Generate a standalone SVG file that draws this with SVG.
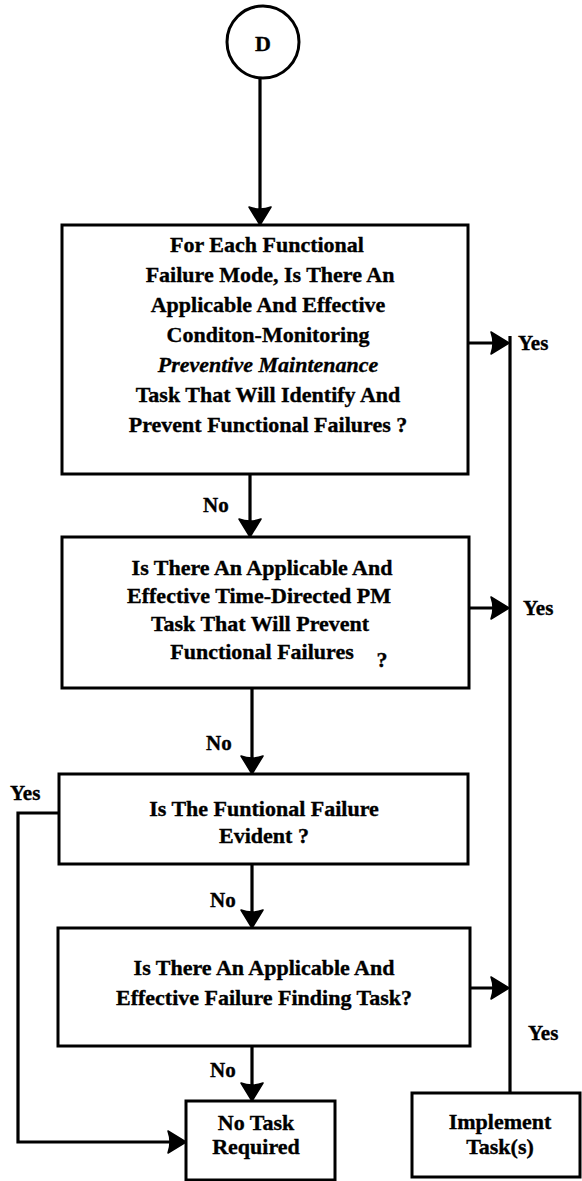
<svg xmlns="http://www.w3.org/2000/svg" width="582" height="1181" viewBox="0 0 582 1181">
  <style>
    .box { fill: #ffffff; stroke: #000000; stroke-width: 3; }
    .wire { fill: none; stroke: #000000; stroke-width: 3.2; }
    .label { font-family: "Liberation Serif", "Times New Roman", serif; font-weight: bold; font-size: 22px; fill: #000000; stroke: #000000; stroke-width: 0.35; text-anchor: middle; }
    .tag { font-family: "Liberation Serif", "Times New Roman", serif; font-weight: bold; font-size: 21px; fill: #000000; stroke: #000000; stroke-width: 0.35; }
  </style>
  <defs>
    <marker id="head" viewBox="0 0 20 24" refX="13" refY="12" markerWidth="20" markerHeight="24" markerUnits="userSpaceOnUse" orient="auto">
      <path d="M19,12 L1,1 Q5,12 1,23 Z" fill="#000000" stroke="#000000" stroke-width="1.5" stroke-linejoin="round"/>
    </marker>
  </defs>
  <rect width="582" height="1181" fill="#ffffff"/>

  <!-- off-page connector -->
  <g id="connector-d">
    <circle cx="263" cy="42" r="36" fill="#ffffff" stroke="#000000" stroke-width="3"/>
    <text class="label" x="263" y="51" font-size="25">D</text>
  </g>

  <!-- decision: condition-monitoring task -->
  <g id="q-condition-monitoring">
    <rect class="box" x="62" y="225" width="406" height="249"/>
    <text class="label" x="267" y="252">For Each Functional</text>
    <text class="label" x="270" y="282">Failure Mode, Is There An</text>
    <text class="label" x="268" y="312">Applicable And Effective</text>
    <text class="label" x="268" y="342">Conditon-Monitoring</text>
    <text class="label" x="268" y="372" font-style="italic">Preventive Maintenance</text>
    <text class="label" x="268" y="402">Task That Will Identify And</text>
    <text class="label" x="268" y="432">Prevent Functional Failures ?</text>
  </g>

  <!-- decision: time-directed task -->
  <g id="q-time-directed">
    <rect class="box" x="62" y="537" width="407" height="151"/>
    <text class="label" x="262" y="575">Is There An Applicable And</text>
    <text class="label" x="259" y="603">Effective Time-Directed PM</text>
    <text class="label" x="260" y="631">Task That Will Prevent</text>
    <text class="label" x="262" y="659">Functional Failures</text>
    <text class="label" x="382" y="667">?</text>
  </g>

  <!-- decision: failure evident -->
  <g id="q-evident">
    <rect class="box" x="59" y="774" width="409" height="90"/>
    <text class="label" x="264" y="816">Is The Funtional Failure</text>
    <text class="label" x="264" y="843">Evident ?</text>
  </g>

  <!-- decision: failure finding task -->
  <g id="q-failure-finding">
    <rect class="box" x="58" y="928" width="412" height="118"/>
    <text class="label" x="264" y="975">Is There An Applicable And</text>
    <text class="label" x="264" y="1005">Effective Failure Finding Task?</text>
  </g>

  <!-- outcome: no task -->
  <g id="no-task">
    <rect class="box" x="186" y="1101" width="149" height="79"/>
    <text class="label" x="256" y="1130">No Task</text>
    <text class="label" x="256" y="1154">Required</text>
  </g>

  <!-- outcome: implement -->
  <g id="implement">
    <rect class="box" x="412" y="1093" width="168" height="84"/>
    <text class="label" x="500" y="1129">Implement</text>
    <text class="label" x="500" y="1154">Task(s)</text>
  </g>

  <!-- connectors -->
  <g id="connectors">
    <path class="wire" d="M260,78 V219" marker-end="url(#head)"/>
    <path class="wire" d="M250,474 V531" marker-end="url(#head)"/>
    <path class="wire" d="M252,688 V768" marker-end="url(#head)"/>
    <path class="wire" d="M252,864 V922" marker-end="url(#head)"/>
    <path class="wire" d="M252,1046 V1095" marker-end="url(#head)"/>

    <path class="wire" d="M468,343 H503" marker-end="url(#head)"/>
    <path class="wire" d="M469,608 H503" marker-end="url(#head)"/>
    <path class="wire" d="M470,988 H503" marker-end="url(#head)"/>
    <path class="wire" d="M510,336 V1093"/>

    <path class="wire" d="M59,813 H18 V1142 H180" marker-end="url(#head)"/>

    <text class="tag" x="203" y="512">No</text>
    <text class="tag" x="206" y="750">No</text>
    <text class="tag" x="210" y="907">No</text>
    <text class="tag" x="210" y="1077">No</text>

    <text class="tag" x="518" y="350">Yes</text>
    <text class="tag" x="523" y="615">Yes</text>
    <text class="tag" x="528" y="1040">Yes</text>
    <text class="tag" x="10" y="800">Yes</text>
  </g>
</svg>
